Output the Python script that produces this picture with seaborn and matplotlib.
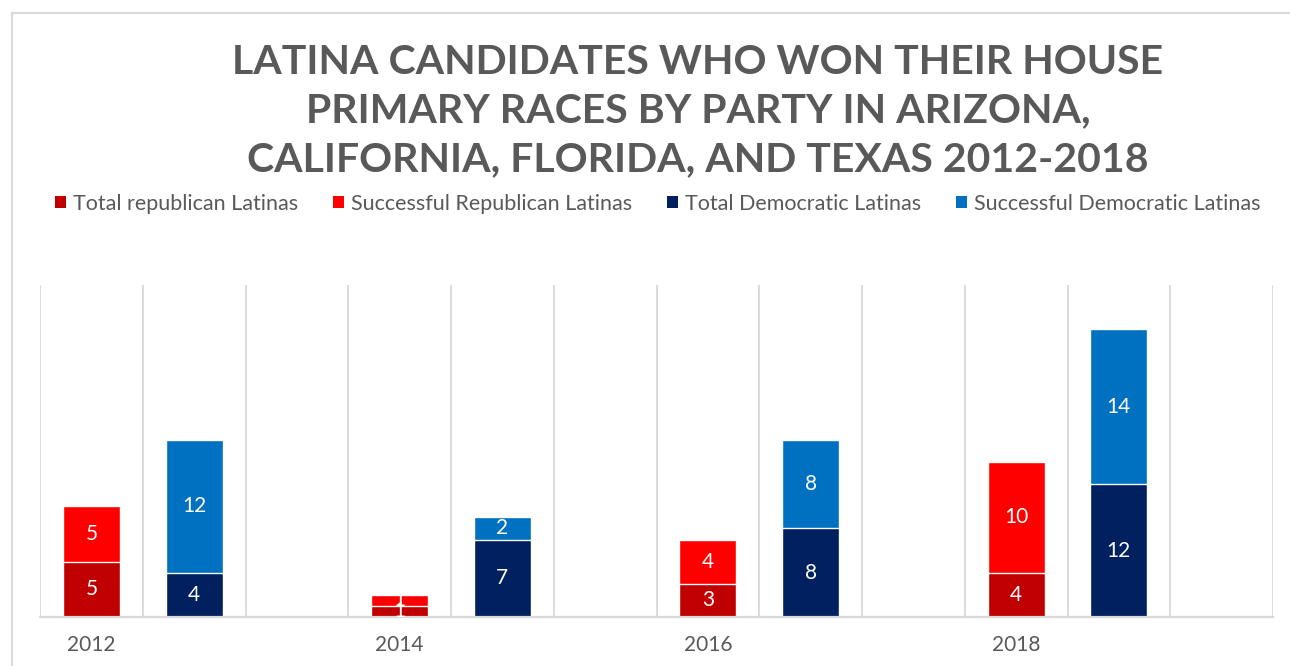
import numpy as np
import pandas as pd
import matplotlib
matplotlib.use("Agg")
import matplotlib.pyplot as plt
from matplotlib.patches import Patch
from matplotlib.lines import Line2D
import seaborn as sns

# Latina primary candidates per cycle
years = ["2012", "2014", "2016", "2018"]
total_republican = [5, 1, 3, 4]
successful_republican = [5, 1, 4, 10]
total_democratic = [4, 7, 8, 12]
successful_democratic = [12, 2, 8, 14]

series_labels = ["Total republican Latinas", "Successful Republican Latinas",
                 "Total Democratic Latinas", "Successful Democratic Latinas"]
colors = ["#C00000", "#FF0000", "#002060", "#0070C0"]
title = ("LATINA CANDIDATES WHO WON THEIR HOUSE\n"
         "PRIMARY RACES BY PARTY IN ARIZONA,\n"
         "CALIFORNIA, FLORIDA, AND TEXAS 2012-2018")

# Each year occupies three slots: Republican bar, Democratic bar, empty gap
rows = []
order = []
for i, y in enumerate(years):
    order += [f"{y} R", f"{y} D", f"{y} gap"]
    rows.append(dict(slot=f"{y} R", party="R", lower=total_republican[i],
                     upper=successful_republican[i]))
    rows.append(dict(slot=f"{y} D", party="D", lower=total_democratic[i],
                     upper=successful_democratic[i]))
df = pd.DataFrame(rows)
df["stack"] = df["lower"] + df["upper"]

sns.set_theme(style="white")
plt.rcParams["font.family"] = ["Lato", "DejaVu Sans"]
text_gray = "#595959"
grid_gray = "#D9D9D9"

fig = plt.figure(figsize=(12.9, 6.66), dpi=100)
ax = fig.add_axes([40 / 1290, 49 / 666, 1233 / 1290, 332 / 666])

bar_w = 0.555
# full stacks first (upper colour), then the lower segment drawn over them
sns.barplot(data=df, x="slot", y="stack", hue="party", order=order,
            palette={"R": colors[1], "D": colors[3]}, dodge=False,
            saturation=1, width=bar_w, errorbar=None, legend=False, ax=ax)
sns.barplot(data=df, x="slot", y="lower", hue="party", order=order,
            palette={"R": colors[0], "D": colors[2]}, dodge=False,
            saturation=1, width=bar_w, errorbar=None, legend=False, ax=ax)

# value labels centred in each segment
for _, r in df.iterrows():
    xpos = order.index(r["slot"])
    ax.text(xpos, r["lower"] / 2, f"{r['lower']}", ha="center", va="center",
            color="white", fontsize=15)
    ax.text(xpos, r["lower"] + r["upper"] / 2, f"{r['upper']}", ha="center",
            va="center", color="white", fontsize=15)

ax.set_xlim(-0.5, len(order) - 0.5)
ax.set_ylim(0, 30)
ax.set_xlabel("")
ax.set_ylabel("")
ax.set_yticks([])
ax.set_xticks([order.index(f"{y} R") for y in years])
ax.set_xticklabels(years, color=text_gray, fontsize=15)
ax.set_xticks(np.arange(-0.5, len(order), 1), minor=True)
ax.tick_params(axis="x", which="both", length=0, pad=13)
ax.grid(False)
ax.grid(which="minor", axis="x", color=grid_gray, lw=1.3)
ax.set_axisbelow(True)
for s in ["top", "left", "right"]:
    ax.spines[s].set_visible(False)
ax.spines["bottom"].set_color(grid_gray)
ax.spines["bottom"].set_linewidth(1.6)

fig.text(0.541, 1 - 111 / 666, title, ha="center", va="center",
         fontsize=29.5, fontweight="bold", color=text_gray, linespacing=1.4)

handles = [Patch(facecolor=c, edgecolor="none") for c in colors]
fig.legend(handles, series_labels, ncol=4, loc="center",
           bbox_to_anchor=(0.510, 1 - 204 / 666), frameon=False,
           handlelength=0.5, handleheight=0.5, handletextpad=0.35,
           columnspacing=1.6, fontsize=15.5, labelcolor=text_gray)

# chart frame
fig.add_artist(Line2D([12 / 1290, 1.0], [1 - 13 / 666] * 2, color=grid_gray,
                      lw=1.5, transform=fig.transFigure))
fig.add_artist(Line2D([12 / 1290] * 2, [0, 1 - 13 / 666], color=grid_gray,
                      lw=1.5, transform=fig.transFigure))

fig.savefig("out.png", dpi=100, facecolor="white")
